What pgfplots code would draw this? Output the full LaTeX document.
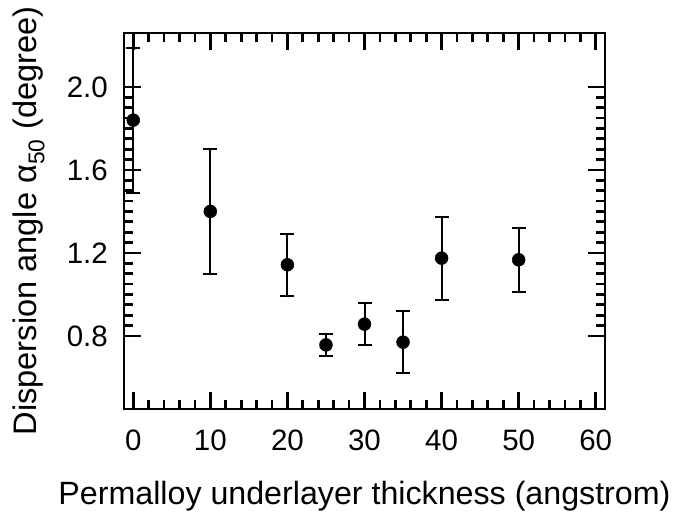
\documentclass[border=0pt]{standalone}
\usepackage{fontspec}
\setmainfont{Liberation Sans}
\usepackage{pgfplots}
\pgfplotsset{compat=1.18}
\begin{document}
\begin{tikzpicture}
\begin{axis}[
  name=ax,
  scale only axis,
  width=481pt, height=376pt,
  xmin=-1.2, xmax=61.2,
  ymin=0.448, ymax=2.26,
  xtick={0,10,20,30,40,50,60},
  ytick={0.8,1.2,1.6,2.0},
  minor x tick num=4,
  minor y tick num=7,
  tick align=inside,
  major tick length=17pt,
  minor tick length=9pt,
  every tick/.style={black, line width=2.8pt},
  axis line style={line width=2.8pt},
  /pgf/number format/assume math mode=true,
  yticklabel style={/pgf/number format/fixed, /pgf/number format/precision=1, /pgf/number format/fixed zerofill, anchor=east, inner sep=0pt, xshift=-16pt},
  xticklabel style={anchor=base, inner sep=0pt, yshift=-42pt},
  tick label style={font=\fontsize{29.5}{34}\selectfont},
  every axis x label/.style={at={(axis description cs:0.5,-0.2527)}, anchor=base, font=\fontsize{32.2}{38}\selectfont},
  every axis y label/.style={at={(axis description cs:-0.1809,0.5)}, rotate=90, anchor=base, font=\fontsize{32.6}{38}\selectfont},
  xlabel={Permalloy underlayer thickness (angstrom)},
  ylabel={Dispersion angle α\textsubscript{50} (degree)},
  clip=false,
]
\addplot[only marks, mark=*, mark size=6.5pt, black,
  error bars/.cd, y dir=both, y explicit,
  error bar style={line width=2pt, black},
  error mark options={rotate=90, mark size=7pt, line width=2pt, black}]
  table[x=x, y=y, y error=e] {
x y e
0 1.84 0.35
10 1.40 0.30
20 1.143 0.15
25 0.757 0.053
30 0.857 0.10
35 0.77 0.15
40 1.175 0.20
50 1.167 0.155
};
\end{axis}
\pgfresetboundingbox
\path[use as bounding box] ([shift={(-124pt,-106pt)}]ax.south west) rectangle ([shift={(69pt,33pt)}]ax.north east);
\end{tikzpicture}
\end{document}
